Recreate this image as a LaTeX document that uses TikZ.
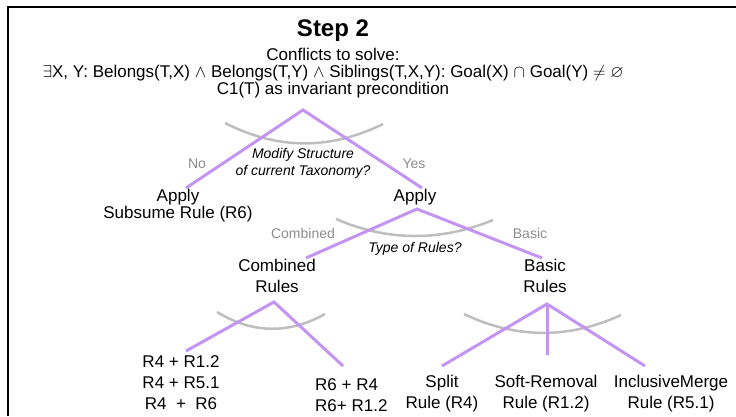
\documentclass[tikz,border=0pt]{standalone}
\usepackage{fontspec}
\usepackage{amssymb}
\setmainfont{Liberation Sans}
\definecolor{branch}{RGB}{196,148,242}
\definecolor{arcgray}{RGB}{190,190,190}
\definecolor{labelgray}{RGB}{140,140,140}
\begin{document}
\begin{tikzpicture}[x=1pt,y=-1pt,
  txt/.style={font=\fontsize{17}{21}\selectfont, align=center, inner sep=0pt, anchor=base},
  tight/.style={font=\fontsize{17}{17}\selectfont, align=center, inner sep=0pt, anchor=base},
  question/.style={font=\fontsize{14}{17}\itshape, align=center, inner sep=0pt, anchor=base},
  choice/.style={font=\fontsize{14}{17}\selectfont, text=labelgray, inner sep=0pt, anchor=base},
  branchline/.style={draw=branch, line width=3pt},
  arcline/.style={draw=arcgray, line width=2.5pt}]
\useasboundingbox (0,0) rectangle (736,416);

% frame
\draw[line width=1.5pt] (8,416) -- (8,7) -- (736,7);

% header (multi-line nodes sit on the baseline of their last line)
\node[anchor=base, inner sep=0pt, font=\fontsize{24}{24}\bfseries\selectfont] (title) at (333,36) {Step 2};
\node[tight] (conf) at (333,60) {Conflicts to solve:};
\node[tight] (cond) at (333,77) {$\exists$X, Y: Belongs(T,X) $\wedge$ Belongs(T,Y) $\wedge$ Siblings(T,X,Y): Goal(X) $\cap$ Goal(Y) $\neq$ $\varnothing$};
\node[tight] (inv) at (333,94) {C1(T) as invariant precondition};

% fork points
\coordinate (a1) at (303,110);
\coordinate (a1l) at (186,188);
\coordinate (a1r) at (422,188);
\coordinate (a2) at (417,209);
\coordinate (a2l) at (306,258);
\coordinate (a2r) at (542,258);
\coordinate (a3) at (274,302);
\coordinate (a3l) at (186,351);
\coordinate (a3r) at (343,366);
\coordinate (a4) at (547,304);
\coordinate (a4l) at (442,366);
\coordinate (a4m) at (547,355);
\coordinate (a4r) at (645,366);

% choice arcs
\draw[arcline] (225,123) .. controls (278,150) and (330,150) .. (383,124);
\draw[arcline] (336,219) .. controls (388,241.5) and (441,241.5) .. (493,220);
\draw[arcline] (217,312) .. controls (253,334) and (289,334) .. (325,314);
\draw[arcline] (464,314) .. controls (516,339) and (569,339) .. (621,315);

% branches
\draw[branchline] (a1l) -- (a1) -- (a1r);
\draw[branchline] (a2l) -- (a2) -- (a2r);
\draw[branchline] (a3l) -- (a3) -- (a3r);
\draw[branchline] (a4l) -- (a4) -- (a4r);
\draw[branchline] (a4) -- (a4m);

% first decision
\node[question] (q1) at (303,175) {Modify Structure\\of current Taxonomy?};
\node[choice] (no) at (197,168) {No};
\node[choice] (yes) at (414,168) {Yes};
\node[tight] (subsume) at (178,218) {Apply\\Subsume Rule (R6)};
\node[tight] (apply) at (415,201) {Apply};

% second decision
\node[question] (q2) at (415,252) {Type of Rules?};
\node[choice] (comb) at (303,238) {Combined};
\node[choice] (basic) at (530,238) {Basic};
\node[txt] (combined) at (277,292) {Combined\\Rules};
\node[txt] (basicrules) at (545,292) {Basic\\Rules};

% leaves
\node[txt] (r4) at (181,409) {R4 + R1.2\\R4 + R5.1\\R4 \ + \ R6};
\node[txt, align=left, anchor=base west] (r6) at (315,411) {R6 + R4\\R6+ R1.2};
\node[txt] (split) at (442,408) {Split\\Rule (R4)};
\node[txt] (soft) at (546,408) {Soft-Removal\\Rule (R1.2)};
\node[txt] (merge) at (671,408) {InclusiveMerge\\Rule (R5.1)};
\end{tikzpicture}
\end{document}
